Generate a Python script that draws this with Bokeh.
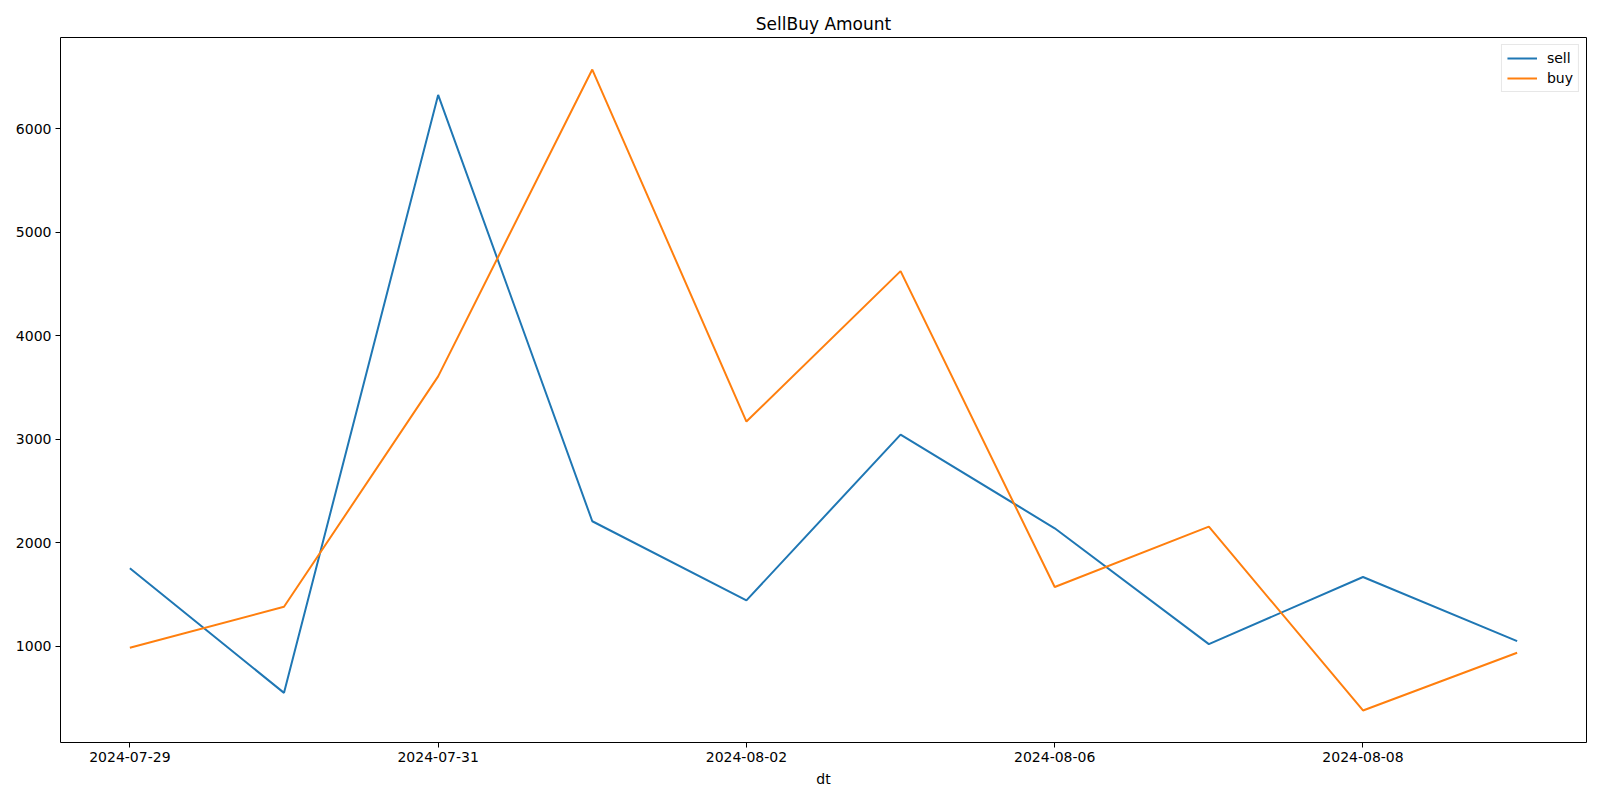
from bokeh.plotting import figure
from bokeh.models import FixedTicker, Range1d, Legend, LegendItem
from bokeh.embed import file_html
from bokeh.resources import INLINE

dates = ["2024-07-29", "2024-07-30", "2024-07-31", "2024-08-01", "2024-08-02",
         "2024-08-05", "2024-08-06", "2024-08-07", "2024-08-08", "2024-08-09"]
sell = [1752, 548, 6329, 2207, 1442, 3045, 2139, 1019, 1668, 1048]
buy = [984, 1380, 3608, 6574, 3171, 4625, 1571, 2155, 378, 936]
x_tick_idx = [0, 2, 4, 6, 8]
y_ticks = [1000, 2000, 3000, 4000, 5000, 6000]

idx = list(range(len(dates)))
ymin = min(min(sell), min(buy))
ymax = max(max(sell), max(buy))
ypad = (ymax - ymin) * 0.05
xpad = (len(dates) - 1) * 0.05

FONT = "DejaVu Sans"

p = figure(width=1592, height=792, output_backend="svg", toolbar_location=None,
           x_range=Range1d(-xpad, len(dates) - 1 + xpad),
           y_range=Range1d(ymin - ypad, ymax + ypad),
           min_border_left=60, min_border_right=6, min_border_top=37, min_border_bottom=50)

p.title.text = "SellBuy Amount"
p.title.align = "center"
p.title.text_font = FONT
p.title.text_font_size = "17px"
p.title.text_font_style = "normal"
p.title.text_color = "black"
p.title.standoff = 8

p.outline_line_color = "black"
p.outline_line_width = 1
p.outline_line_alpha = 1
p.xgrid.visible = False
p.ygrid.visible = False

p.xaxis.ticker = FixedTicker(ticks=x_tick_idx)
p.xaxis.major_label_overrides = {i: dates[i] for i in x_tick_idx}
p.yaxis.ticker = FixedTicker(ticks=y_ticks)
p.xaxis.axis_label = "dt"

for ax in (p.xaxis[0], p.yaxis[0]):
    ax.major_label_text_font = FONT
    ax.major_label_text_font_size = "14px"
    ax.major_label_text_color = "black"
    ax.axis_label_text_font = FONT
    ax.axis_label_text_font_size = "14px"
    ax.axis_label_text_font_style = "normal"
    ax.axis_label_text_color = "black"
    ax.axis_label_standoff = 6
    ax.major_tick_out = 5
    ax.major_tick_in = 0
    ax.minor_tick_out = 0
    ax.minor_tick_in = 0
    ax.axis_line_color = None
    ax.major_tick_line_color = "black"
    ax.major_label_standoff = 4

r1 = p.line(idx, sell, line_color="#1f77b4", line_width=2)
r2 = p.line(idx, buy, line_color="#ff7f0e", line_width=2)

legend = Legend(items=[LegendItem(label="sell", renderers=[r1]),
                       LegendItem(label="buy", renderers=[r2])],
                location="top_right")
legend.label_text_font = FONT
legend.label_text_font_size = "14px"
legend.label_text_color = "black"
legend.border_line_color = "#d0d0d0"
legend.border_line_width = 1
legend.glyph_width = 30
legend.glyph_height = 16
legend.label_height = 16
legend.label_standoff = 10
legend.spacing = 4
legend.padding = 5
legend.margin = 7
p.add_layout(legend)

open("out.html", "w").write(file_html(p, INLINE))
